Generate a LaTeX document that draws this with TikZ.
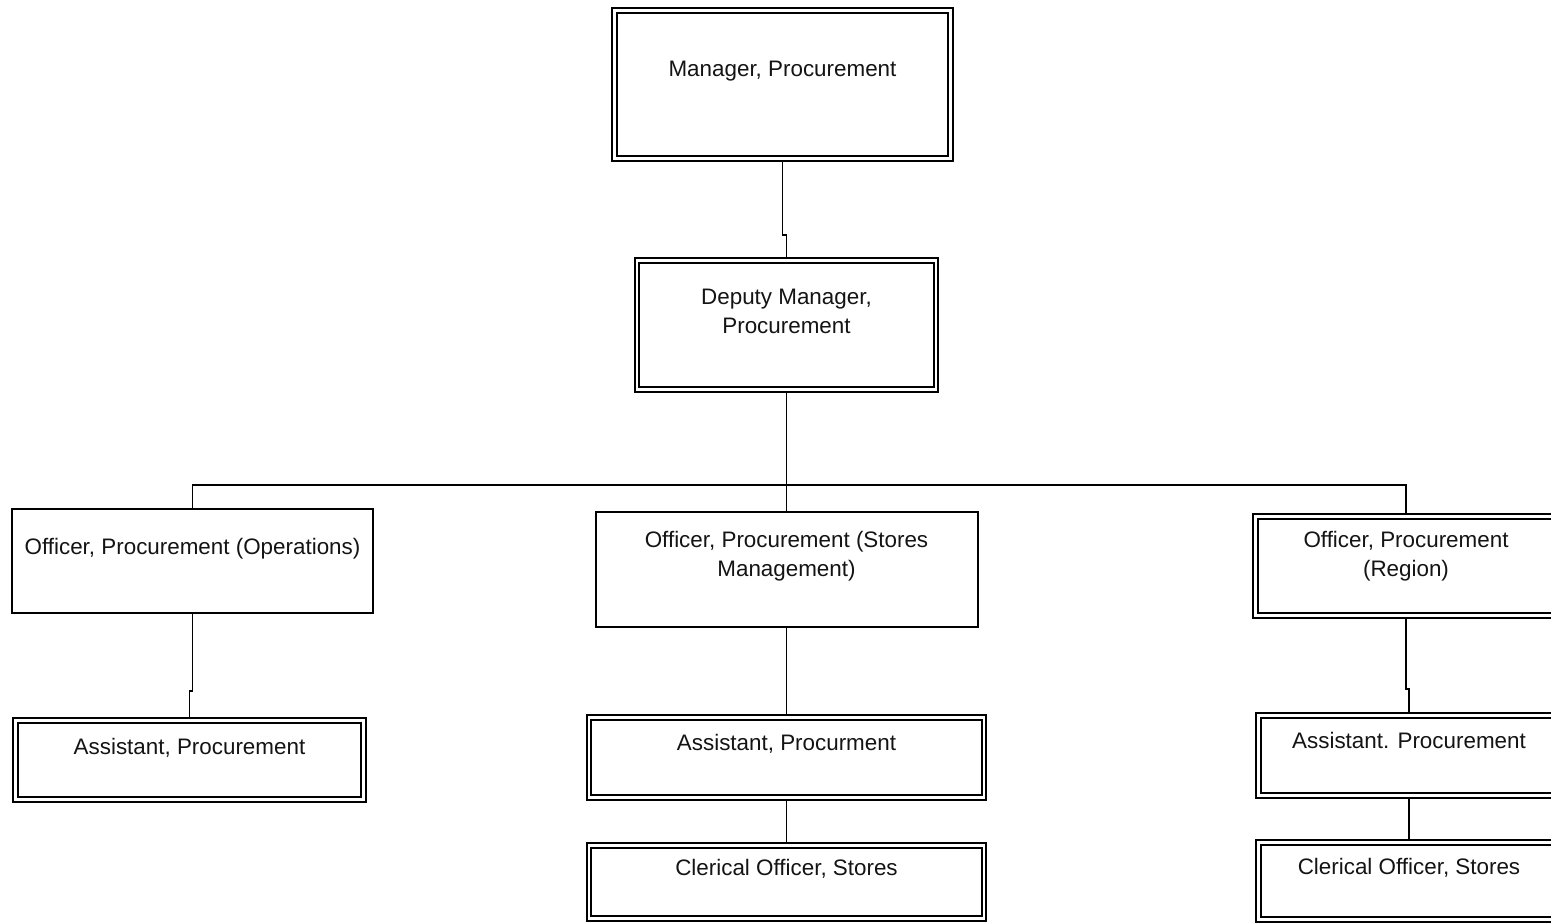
\documentclass[tikz,border=0pt]{standalone}
\usepackage{fontspec}
\setmainfont{Liberation Sans}
\begin{document}
\begin{tikzpicture}[x=1pt,y=-1pt,
  dbox/.style={draw=black, line width=2pt, double=white, double distance=2.2pt,
    fill=white, rectangle, inner sep=0pt, outer sep=3.1pt},
  sbox/.style={draw=black, line width=2pt, fill=white, rectangle,
    inner sep=0pt, outer sep=1pt},
  lbl/.style={anchor=north, inner sep=0pt, align=center, text=black!92,
    font=\fontsize{22.4}{29}\selectfont},
  link/.style={draw=black, line width=1.9pt}]
\useasboundingbox (0,0) rectangle (1551,923);
\clip (0,0) rectangle (1551,923);

% positions in the chart
\node[dbox, minimum width=336pt, minimum height=148pt,
  label={[lbl,yshift=-53pt]north:{Manager, Procurement}}] (mgr) at (782.5,84.5) {};
\node[dbox, minimum width=299pt, minimum height=129pt,
  label={[lbl,yshift=-31pt]north:{Deputy Manager,\\Procurement}}] (dep) at (786.5,325) {};

\node[sbox, minimum width=361pt, minimum height=104pt,
  label={[lbl,yshift=-30pt]north:{Officer, Procurement (Operations)}}] (ops) at (192.5,561) {};
\node[sbox, minimum width=382pt, minimum height=115pt,
  label={[lbl,yshift=-20pt]north:{Officer, Procurement (Stores\\Management)}}] (sto) at (786.5,569.5) {};
\node[dbox, minimum width=301pt, minimum height=99pt,
  label={[lbl,yshift=-18pt]north:{Officer, Procurement\\(Region)}}] (reg) at (1406,566) {};

\node[dbox, minimum width=348pt, minimum height=79pt,
  label={[lbl,yshift=-21pt]north:{Assistant, Procurement}}] (aops) at (189.5,760) {};
\node[dbox, minimum width=395pt, minimum height=80pt,
  label={[lbl,yshift=-20pt]north:{Assistant, Procurment}}] (asto) at (786.5,757.5) {};
\node[dbox, minimum width=395pt, minimum height=73pt,
  label={[lbl,yshift=-17pt]north:{Clerical Officer, Stores}}] (csto) at (786.5,882) {};
\node[dbox, minimum width=301pt, minimum height=80pt,
  label={[lbl,yshift=-20pt]north:{Assistant. Procurement}}] (areg) at (1409,755.5) {};
\node[dbox, minimum width=301pt, minimum height=77pt,
  label={[lbl,yshift=-19pt]north:{Clerical Officer, Stores}}] (creg) at (1409,881) {};

% reporting lines
\coordinate (bus) at (786.5,485);
\draw[link] (mgr.south) -- ++(0,73) -| (dep.north);
\draw[link] (dep.south) -- (bus);
\draw[link] (ops.north) |- (bus) -| (reg.north);
\draw[link] (bus) -- (sto.north);
\draw[link] (ops.south) -- ++(0,77) -| (aops.north);
\draw[link] (sto.south) -- (asto.north);
\draw[link] (asto.south) -- (csto.north);
\draw[link] (reg.south) -- ++(0,70) -| (areg.north);
\draw[link] (areg.south) -- (creg.north);
\end{tikzpicture}
\end{document}
